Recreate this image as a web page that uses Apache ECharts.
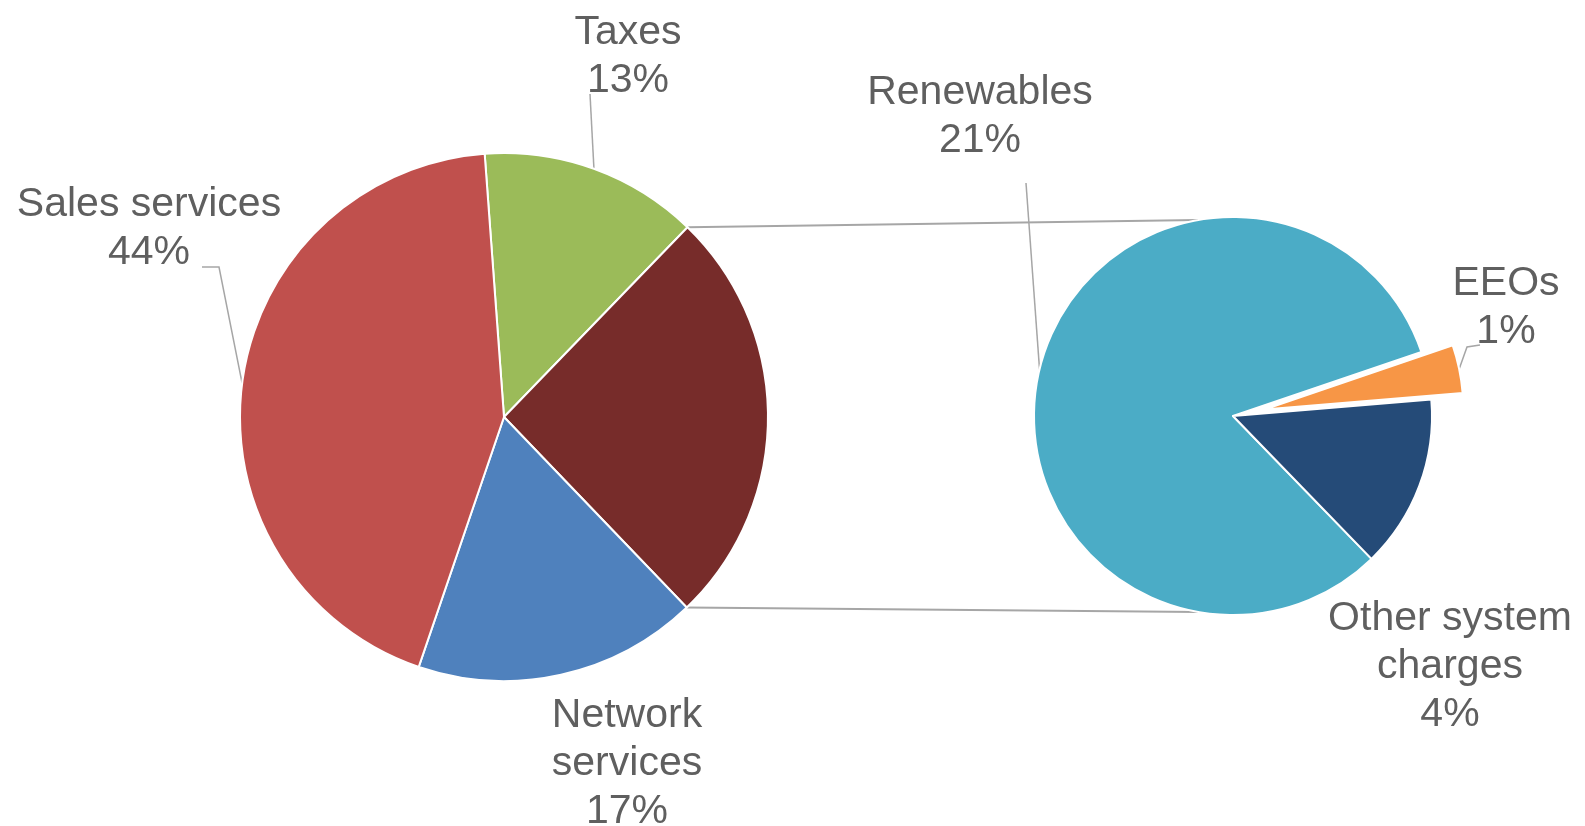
<!DOCTYPE html>
<html>
<head>
<meta charset="utf-8">
<script src="https://cdn.jsdelivr.net/npm/echarts@6/dist/echarts.min.js"></script>
<style>
html,body{margin:0;padding:0;background:#fff;}
#chart{width:1585px;height:826px;}
</style>
</head>
<body>
<div id="chart"></div>
<script>
// ---- data (percent of total bill) ----
const mainCategories = ['Taxes', 'Network services', 'Sales services'];
const mainValues = [13.4, 17.4, 43.6];
const subCategories = ['Renewables', 'EEOs', 'Other system charges'];
const subValues = [21.0, 1.0, 3.6];

// ---- styling / geometry ----
const FONT = "'Liberation Sans', Arial, Helvetica, sans-serif";
const TEXT = '#5f5f5f';
const LINE = '#a6a6a6';
const L = { cx: 504, cy: 417, r: 264, start: 94.2 };
const R = { cx: 1233, cy: 416, r: 199, start: 314.1 };
const EXPLODE = 32;
const SUB_COLORS = ['#4BACC6', '#F79646', '#254B78'];

const groupValue = subValues.reduce((a, b) => a + b, 0);
const leftData = [
  { name: mainCategories[0], value: mainValues[0], itemStyle: { color: '#9BBB59' } },
  { name: 'Other', value: groupValue, itemStyle: { color: '#772C2A' }, label: { show: false }, labelLine: { show: false } },
  { name: mainCategories[1], value: mainValues[1], itemStyle: { color: '#4F81BD' }, labelLine: { show: false } },
  { name: mainCategories[2], value: mainValues[2], itemStyle: { color: '#C0504D' } }
];
const EXPLODED = 1; // index of the pulled-out slice in the second pie
const hidden = { color: 'transparent', borderWidth: 0 };
const rightData = subCategories.map((n, i) => i === EXPLODED
  ? { name: n, value: subValues[i], itemStyle: hidden, label: { show: false }, labelLine: { show: false } }
  : { name: n, value: subValues[i], itemStyle: { color: SUB_COLORS[i] }, labelLine: { show: i === 0 } });
const explodedData = subCategories.map((n, i) => i === EXPLODED
  ? { name: n, value: subValues[i], itemStyle: { color: SUB_COLORS[i] } }
  : { name: n, value: subValues[i], itemStyle: hidden, label: { show: false }, labelLine: { show: false } });

function pt(c, ang, rr) {
  const a = ang * Math.PI / 180;
  return [c.cx + rr * Math.cos(a), c.cy - rr * Math.sin(a)];
}
// slice boundary angles (clockwise from start)
function bounds(c, vals) {
  const tot = vals.reduce((a, b) => a + b, 0);
  let a = c.start; const out = [];
  vals.forEach(v => { const span = v / tot * 360; out.push([a, a - span]); a -= span; });
  return out;
}
const lb = bounds(L, leftData.map(d => d.value));
const rb = bounds(R, subValues);
const midL = i => (lb[i][0] + lb[i][1]) / 2;
const midR = i => (rb[i][0] + rb[i][1]) / 2;
const exC = pt(R, midR(EXPLODED), EXPLODE);
const RX = { cx: exC[0], cy: exC[1], r: R.r, start: R.start };

function wrapName(n) {
  if (n.length <= 14) return n;
  let idx = -1;
  for (let i = 0; i < n.length; i++) if (n[i] === ' ' && i <= 12) idx = i;
  return idx > 0 ? n.slice(0, idx) + '\n' + n.slice(idx + 1) : n;
}
const labelFmt = p => wrapName(p.name) + '\n' + Math.round(p.value) + '%';

// label placements (centre of the text block) and leader lines
const leftLabelPos = {
  0: { x: 628, y: 57, line: () => [pt(L, midL(0), L.r), [590, 94]] },
  2: { x: 627, y: 764 },
  3: { x: 149, y: 229, line: () => [pt(L, midL(3), L.r), [219, 267], [202, 267]] }
};
const rightLabelPos = {
  0: { x: 980, y: 117, line: () => [pt(R, midR(0), R.r), [1026, 183]] },
  2: { x: 1450, y: 667 }
};
const explodedLabelPos = {
  1: { x: 1506, y: 308, line: () => [pt(RX, midR(1), RX.r), [1467, 347], [1480, 345]] }
};
function layoutFor(map) {
  return function (p) {
    const m = map[p.dataIndex];
    if (!m) return {};
    const o = { x: m.x, y: m.y, align: 'center', verticalAlign: 'middle' };
    if (m.line) o.labelLinePoints = m.line();
    return o;
  };
}

const commonLabel = {
  show: true, position: 'outside', formatter: labelFmt,
  fontFamily: FONT, fontSize: 41, lineHeight: 48, color: TEXT, align: 'center'
};
const commonLine = { show: true, length: 10, length2: 10, smooth: false, lineStyle: { color: LINE, width: 1.5 } };

// connector lines between the two pies
const c1 = pt(L, lb[1][0], L.r), c2 = pt(L, lb[1][1], L.r);
const e1 = pt(R, 100, R.r), e2 = pt(R, -100, R.r);

function pieSeries(c, data, layoutMap) {
  return {
    type: 'pie', center: [c.cx, c.cy], radius: [0, c.r], startAngle: c.start, clockwise: true,
    avoidLabelOverlap: false, silent: true,
    itemStyle: { borderColor: '#ffffff', borderWidth: 2 },
    label: commonLabel, labelLine: commonLine,
    labelLayout: layoutFor(layoutMap),
    data: data
  };
}

const chart = echarts.init(document.getElementById('chart'));
chart.setOption({
  backgroundColor: '#ffffff',
  animation: false,
  graphic: [
    { type: 'line', z: -1, shape: { x1: c1[0], y1: c1[1], x2: e1[0], y2: e1[1] }, style: { stroke: LINE, lineWidth: 2 } },
    { type: 'line', z: -1, shape: { x1: c2[0], y1: c2[1], x2: e2[0], y2: e2[1] }, style: { stroke: LINE, lineWidth: 2 } }
  ],
  series: [
    pieSeries(L, leftData, leftLabelPos),
    pieSeries(R, rightData, rightLabelPos),
    pieSeries(RX, explodedData, explodedLabelPos)
  ]
});
</script>
</body>
</html>
